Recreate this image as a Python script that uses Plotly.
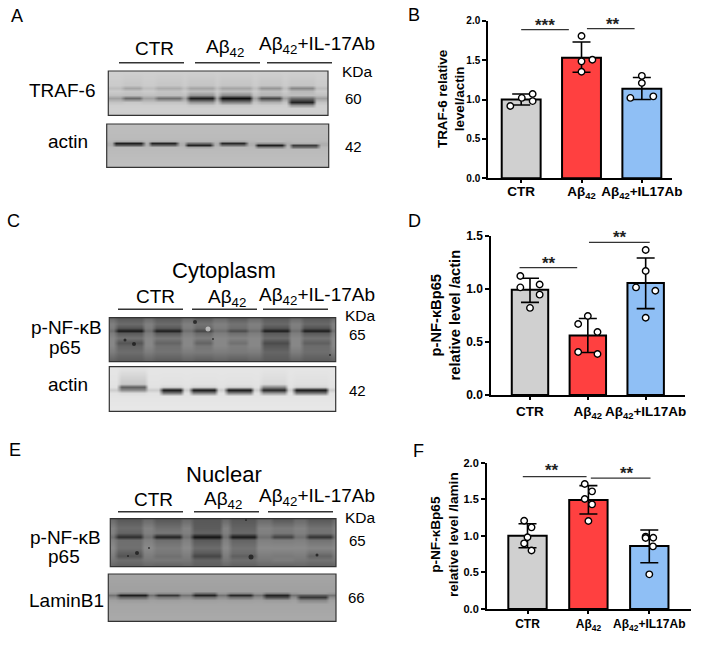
import plotly.graph_objects as go

W, H = 708, 645
FONT = "Liberation Sans, Arial, sans-serif"
AB = "Aβ<sub>42</sub>"

# ---------- bar chart data ----------
groups = ["CTR", AB, AB + "+IL17Ab"]
bar_colors = ["#D0D0D0", "#FF4040", "#8FBFF5"]

b_means = [1.00, 1.53, 1.135]
b_upper = [1.07, 1.73, 1.28]
b_lower = [0.93, 1.345, 1.00]
b_pts_x = [[-0.18, 0.01, 0.19, 0.19], [0.0, 0.18, 0.0, 0.0], [0.0, 0.0, -0.19, 0.19]]
b_pts_y = [[0.917, 1.02, 1.07, 0.98], [1.805, 1.505, 1.484, 1.353], [1.30, 1.21, 1.02, 1.04]]

d_means = [0.99, 0.56, 1.055]
d_upper = [1.10, 0.72, 1.29]
d_lower = [0.872, 0.40, 0.813]
d_pts_x = [[-0.167, -0.167, 0.167, 0.167, 0.0], [0.0, -0.167, 0.167, -0.167, 0.167], [0.0, 0.0, -0.167, 0.167, 0.0]]
d_pts_y = [[1.12, 1.013, 1.04, 0.945, 0.82], [0.744, 0.668, 0.593, 0.405, 0.386], [1.365, 1.167, 1.013, 0.982, 0.728]]

f_means = [1.00, 1.49, 0.86]
f_upper = [1.166, 1.686, 1.08]
f_lower = [0.838, 1.298, 0.633]
f_pts_x = [[-0.055, 0.066, 0.0, -0.055, 0.066], [-0.06, 0.06, -0.06, 0.06, 0.0], [-0.06, 0.065, -0.06, 0.06, 0.0]]
f_pts_y = [[1.207, 1.116, 0.98, 0.897, 0.80], [1.708, 1.608, 1.503, 1.43, 1.203], [0.989, 0.975, 0.97, 0.856, 0.474]]

charts = [
    dict(m=b_means, u=b_upper, l=b_lower, px=b_pts_x, py=b_pts_y, ymax=2.0, yt=[0, 0.5, 1.0, 1.5, 2.0],
         box=(488, 672, 20.7, 178.3), xr=(-0.55, 2.5), w=0.645, tick=10, xtick=13.5, tsize=13.4, msize=6.5,
         title="TRAF-6 relative<br>level/actin", tpos=(451, 99), lab=-3,
         sig=[(0.0, 0.79, 1.886, "***", 0, 0), (1.09, 1.88, 1.90, "**", 2, 0)]),
    dict(m=d_means, u=d_upper, l=d_lower, px=d_pts_x, py=d_pts_y, ymax=1.5, yt=[0, 0.5, 1.0, 1.5],
         box=(491, 685, 235.7, 395), xr=(-0.674, 2.68), w=0.63, tick=12, xtick=13.5, tsize=14.7, msize=6.5,
         title="p-NF-κBp65<br>relative level /actin", tpos=(444.5, 315), lab=0,
         sig=[(-0.18, 0.816, 1.2, "**", 1, 0), (1.02, 2.07, 1.437, "**", 1, 0)]),
    dict(m=f_means, u=f_upper, l=f_lower, px=f_pts_x, py=f_pts_y, ymax=2.0, yt=[0, 0.5, 1.0, 1.5, 2.0],
         box=(486.7, 690.7, 462.7, 609), xr=(-0.67, 2.68), w=0.63, tick=11, xtick=12, tsize=13.6, msize=6.5,
         title="p-NF-κBp65<br>relative level /lamin", tpos=(444, 535), lab=0,
         sig=[(-0.077, 0.97, 1.809, "**", -3, 2), (1.04, 2.02, 1.79, "**", 6, 0)]),
]

# ---------- blot descriptions: rows of (y, gap grey, six lane greys) ----------
a1_lanes = [(122, 142), (155, 182), (187, 215), (219, 252), (258, 282), (288, 315)]
a1_rows = [
    (71, 208, [208] * 6), (85, 203, [198, 198, 196, 196, 196, 196]),
    (88, 190, [165, 172, 165, 165, 150, 135]), (91, 203, [198, 195, 190, 190, 190, 185]),
    (95, 192, [190, 190, 150, 140, 180, 190]), (98, 160, [105, 110, 30, 15, 70, 110]),
    (101.5, 195, [200, 195, 150, 130, 175, 35]), (105, 206, [206, 206, 200, 200, 204, 150]),
    (108, 208, [208] * 6), (115.3, 205, [205] * 6),
]
a2_lanes = [(113, 144), (149, 178), (185, 213), (219, 247), (255, 285), (290, 319)]
a2_rows = [
    (124, 190, [190] * 6), (139, 186, [186] * 6), (141, 182, [170, 175, 182, 170, 186, 186]),
    (143, 175, [30, 35, 110, 40, 150, 175]), (145, 175, [90, 100, 35, 110, 30, 60]),
    (147, 184, [185, 185, 165, 185, 130, 110]), (149, 186, [186] * 6), (167.3, 192, [192] * 6),
]
c1_lanes = [(115, 144), (153, 182), (193, 213), (227, 248), (261, 290), (301, 331)]
c1_rows = [
    (317.7, 105, [90] * 6), (324, 128, [108, 108, 115, 115, 105, 105]),
    (328, 125, [85, 90, 105, 110, 85, 85]), (330.5, 110, [25, 30, 70, 75, 30, 30]),
    (333, 125, [90, 90, 105, 110, 90, 90]), (338, 135, [115, 120, 125, 130, 108, 115]),
    (343, 135, [85, 100, 100, 112, 75, 95]), (346, 135, [100, 112, 118, 125, 88, 108]),
    (352, 125, [110, 115, 122, 122, 102, 110]), (361.7, 95, [88] * 6),
]
c2_lanes = [(118, 147), (160, 183), (190, 217), (225, 253), (260, 287), (293, 328)]
c2_rows = [
    (366.7, 230, [230] * 6), (384, 227, [200, 226, 226, 226, 218, 224]),
    (387, 226, [95, 215, 215, 215, 140, 215]), (390, 205, [140, 25, 25, 25, 40, 25]),
    (392.5, 226, [220, 120, 130, 130, 150, 120]), (396, 228, [228] * 6), (411.3, 232, [232] * 6),
]
e1_lanes = [(115, 143), (153, 182), (191, 222), (229, 257), (271, 294), (306, 333)]
e1_rows = [
    (518.7, 105, [88] * 6), (528, 130, [108, 112, 92, 100, 122, 115]),
    (533, 128, [100, 120, 100, 105, 120, 115]), (536.5, 112, [45, 35, 20, 25, 65, 50]),
    (540, 128, [110, 110, 90, 100, 125, 115]), (548, 138, [112, 125, 108, 115, 138, 133]),
    (553, 130, [95, 120, 90, 108, 128, 115]), (555.5, 125, [85, 112, 70, 95, 122, 100]),
    (559.5, 120, [110, 120, 100, 110, 125, 115]), (566.7, 100, [95] * 6),
]
e2_lanes = [(117, 148), (155, 180), (192, 217), (227, 253), (263, 290), (297, 328)]
e2_rows = [
    (574, 165, [165] * 6), (591, 160, [160] * 6), (593, 150, [130, 140, 110, 130, 125, 155]),
    (595, 115, [30, 55, 35, 40, 35, 90]), (597, 140, [100, 120, 110, 110, 75, 55]),
    (600, 160, [155, 158, 158, 158, 155, 135]), (604, 165, [165] * 6), (621.3, 170, [170] * 6),
]
blots = [
    dict(box=(108.3, 328, 71, 115.3), lanes=a1_lanes, rows=a1_rows, specks=[]),
    dict(box=(106.7, 328.7, 124, 167.3), lanes=a2_lanes, rows=a2_rows, specks=[]),
    dict(box=(109.3, 335.7, 317.7, 361.7), lanes=c1_lanes, rows=c1_rows,
         specks=[(125, 340, 3, "#111"), (134, 344, 4, "#111"), (195, 322, 4, "#111"), (208, 329, 5, "#ddd"),
                 (213, 339, 2, "#111"), (330, 355, 2, "#111")]),
    dict(box=(109.3, 335.7, 366.7, 411.3), lanes=c2_lanes, rows=c2_rows, specks=[]),
    dict(box=(110.3, 336, 518.7, 566.7), lanes=e1_lanes, rows=e1_rows,
         specks=[(137, 553, 4, "#111"), (128, 556, 2, "#111"), (149, 548, 2, "#111"), (251, 557, 5, "#111"),
                 (317, 555, 3, "#111"), (246, 520, 2, "#111")]),
    dict(box=(108.3, 336, 574, 621.3), lanes=e2_lanes, rows=e2_rows, specks=[]),
]

# ---------- text labels: (text, x, y, size) in page position ----------
panel_letters = [("A", 17, 16), ("B", 414, 15), ("C", 13, 221), ("D", 414, 221), ("E", 15, 450), ("F", 418, 451)]
blot_labels = [
    ("CTR", 154, 49, 19), (AB, 225, 48, 19), (AB + "+IL-17Ab", 317, 45, 19), ("KDa", 357, 71, 15.5),
    ("60", 353, 98, 15), ("42", 353, 146, 15), ("TRAF-6", 62, 90, 19), ("actin", 68, 141, 19),
    ("Cytoplasm", 224, 270, 22), ("CTR", 155, 296, 19), (AB, 227, 298, 19), (AB + "+IL-17Ab", 317, 296, 19),
    ("KDa", 360, 316, 15.5), ("65", 357, 334, 15), ("p-NF-κB", 66, 327, 19), ("p65", 65, 347, 19),
    ("actin", 68, 385, 19), ("42", 357, 390, 15),
    ("Nuclear", 224, 474, 22), ("CTR", 153, 499, 19), (AB, 223, 500, 19), (AB + "+IL-17Ab", 317, 497, 19),
    ("KDa", 360, 517, 15.5), ("65", 357, 540, 15), ("p-NF-κB", 65, 537, 19), ("p65", 64, 556, 19),
    ("LaminB1", 66, 600, 19), ("66", 356, 597, 15),
]
group_rules = [
    (119, 184, 62.7), (195, 260, 62.7), (267, 332, 62.7),
    (118, 183, 309.3), (192, 257, 309.3), (263, 328, 309.3),
    (118, 183, 511.7), (194, 259, 511.7), (268, 333, 511.7),
]


def fx(p):
    return p / W


def fy(p):
    return 1 - p / H


fig = go.Figure()
layout = {}
shapes = []
annotations = []

for i, c in enumerate(charts):
    n = "" if i == 0 else str(i + 1)
    xa, ya = "x" + n, "y" + n
    err_p = [u - m for u, m in zip(c["u"], c["m"])]
    err_m = [m - l for l, m in zip(c["l"], c["m"])]
    fig.add_trace(go.Bar(
        x=[0, 1, 2], y=c["m"], width=c["w"], xaxis=xa, yaxis=ya,
        marker=dict(color=bar_colors, line=dict(color="black", width=2)),
        error_y=dict(type="data", symmetric=False, array=err_p, arrayminus=err_m,
                     color="black", thickness=1.6, width=9),
        showlegend=False, hoverinfo="skip"))
    for k in range(3):
        fig.add_trace(go.Scatter(
            x=[k + d for d in c["px"][k]], y=c["py"][k], xaxis=xa, yaxis=ya, mode="markers",
            cliponaxis=False,
            marker=dict(color="white", size=c["msize"], line=dict(color="black", width=1.4)),
            showlegend=False, hoverinfo="skip"))
    x0, x1, y0, y1 = c["box"]
    axfont = dict(family=FONT, size=c["tick"], color="black", weight="bold")
    layout["xaxis" + n] = dict(
        domain=[fx(x0), fx(x1)], range=list(c["xr"]), anchor=ya, tickmode="array", tickvals=[0, 1, 2],
        ticktext=groups, ticks="outside", ticklen=3, tickwidth=1.5, tickcolor="black", showgrid=False,
        zeroline=False, showline=True, linecolor="black", linewidth=1.5, ticklabelstandoff=c["lab"],
        tickfont=dict(family=FONT, size=c["xtick"], color="black", weight="bold"))
    layout["yaxis" + n] = dict(
        domain=[fy(y1), fy(y0)], range=[0, c["ymax"]], anchor=xa, tickmode="array", tickvals=c["yt"],
        ticktext=["%.1f" % v for v in c["yt"]], ticks="outside", ticklen=4, tickwidth=1.5, tickcolor="black",
        showgrid=False, zeroline=False, showline=True, linecolor="black", linewidth=1.5, tickfont=axfont)
    annotations.append(dict(text=c["title"], xref="paper", yref="paper", x=fx(c["tpos"][0]), y=fy(c["tpos"][1]),
                            xanchor="center", yanchor="middle", showarrow=False, textangle=-90,
                            font=dict(family=FONT, size=c["tsize"], color="black", weight="bold")))
    for a, b, yv, stars, dx, dy in c["sig"]:
        shapes.append(dict(type="line", xref=xa, yref=ya, x0=a, x1=b, y0=yv, y1=yv,
                           line=dict(color="#333333", width=1.3)))
        annotations.append(dict(text=stars, xref=xa, yref=ya, x=(a + b) / 2, y=yv, yanchor="bottom",
                                xanchor="center", showarrow=False, yshift=-7 + dy, xshift=dx,
                                font=dict(family=FONT, size=17, color="#222222", weight="bold")))

for j, bl in enumerate(blots):
    n = str(j + 4)
    xa, ya = "x" + n, "y" + n
    bx0, bx1, by0, by1 = bl["box"]
    xs = [bx0]
    for l, r in bl["lanes"]:
        xs += [l - 1.5, l + 3, r - 3, r + 1.5]
    xs.append(bx1)
    ys = [row[0] for row in bl["rows"]]
    z = []
    for _, gap, vals in bl["rows"]:
        line = [gap]
        for v in vals:
            line += [gap, v, v, gap]
        line.append(gap)
        z.append(line)
    fig.add_trace(go.Heatmap(x=xs, y=ys, z=z, xaxis=xa, yaxis=ya, zmin=0, zmax=255, zsmooth="best",
                             colorscale=[[0, "#000000"], [1, "#ffffff"]], showscale=False, hoverinfo="skip"))
    if bl["specks"]:
        fig.add_trace(go.Scatter(x=[s[0] for s in bl["specks"]], y=[s[1] for s in bl["specks"]],
                                 xaxis=xa, yaxis=ya, mode="markers", showlegend=False, hoverinfo="skip",
                                 marker=dict(size=[s[2] for s in bl["specks"]], color=[s[3] for s in bl["specks"]],
                                             line=dict(width=0))))
    layout["xaxis" + n] = dict(domain=[fx(bx0), fx(bx1)], range=[bx0, bx1], anchor=ya, visible=False)
    layout["yaxis" + n] = dict(domain=[fy(by1), fy(by0)], range=[by1, by0], anchor=xa, visible=False)
    shapes.append(dict(type="rect", xref="paper", yref="paper", x0=fx(bx0), x1=fx(bx1), y0=fy(by1), y1=fy(by0),
                       line=dict(color="#333333", width=1.2)))

for a, b, y in group_rules:
    shapes.append(dict(type="line", xref="paper", yref="paper", x0=fx(a), x1=fx(b), y0=fy(y), y1=fy(y),
                       line=dict(color="#333333", width=1.6)))
for t, x, y in panel_letters:
    annotations.append(dict(text=t, xref="paper", yref="paper", x=fx(x), y=fy(y), xanchor="center",
                            yanchor="middle", showarrow=False, font=dict(family=FONT, size=18, color="black")))
for t, x, y, s in blot_labels:
    annotations.append(dict(text=t, xref="paper", yref="paper", x=fx(x), y=fy(y), xanchor="center",
                            yanchor="middle", showarrow=False, font=dict(family=FONT, size=s, color="black")))

fig.update_layout(width=W, height=H, margin=dict(l=0, r=0, t=0, b=0, autoexpand=False), paper_bgcolor="white",
                  plot_bgcolor="rgba(0,0,0,0)", showlegend=False, shapes=shapes, annotations=annotations,
                  **layout)
fig.write_html("out.html", config={"displayModeBar": False},
               post_script="document.body.style.margin='0';document.documentElement.style.overflow='hidden';")
